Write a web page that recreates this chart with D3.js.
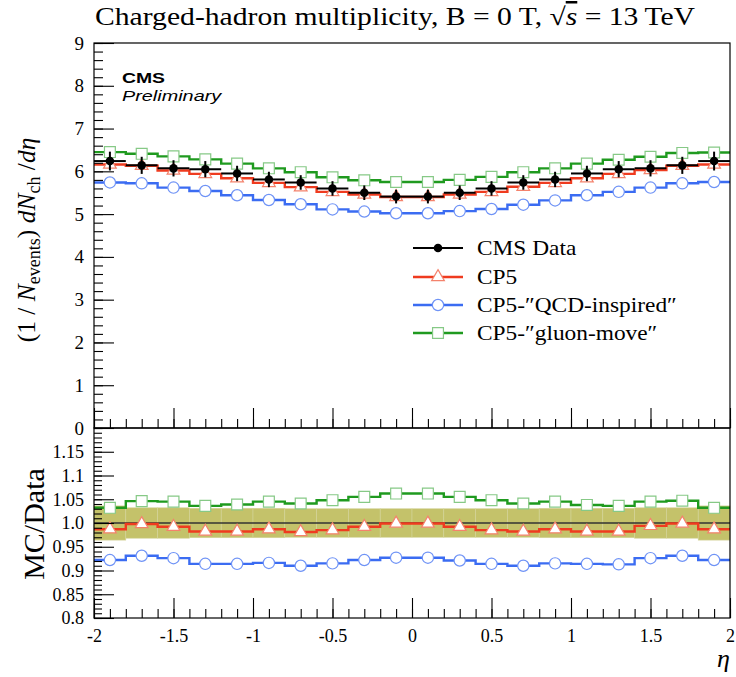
<!DOCTYPE html>
<html>
<head>
<meta charset="utf-8">
<script src="https://cdn.jsdelivr.net/npm/d3@7/dist/d3.min.js"></script>
<style>
  body { margin: 0; background: #fff; }
</style>
</head>
<body>
<div id="chartVis"></div>
<script>
// bin centres in eta (bin width 0.2)
var etaBins = [-1.9, -1.7, -1.5, -1.3, -1.1, -0.9, -0.7, -0.5, -0.3, -0.1,
               0.1, 0.3, 0.5, 0.7, 0.9, 1.1, 1.3, 1.5, 1.7, 1.9];

// top panel: dN/deta
var dataVals  = [6.24, 6.14, 6.07, 6.05, 5.95, 5.81, 5.74, 5.60, 5.50, 5.41,
                 5.41, 5.50, 5.60, 5.74, 5.81, 5.95, 6.05, 6.07, 6.14, 6.24];
var dataErr   = [0.22, 0.20, 0.19, 0.19, 0.18, 0.18, 0.17, 0.17, 0.17, 0.16,
                 0.16, 0.17, 0.17, 0.17, 0.18, 0.18, 0.19, 0.19, 0.20, 0.22];
var cp5Vals   = [6.16, 6.13, 6.02, 5.94, 5.84, 5.73, 5.63, 5.52, 5.46, 5.40,
                 5.40, 5.46, 5.52, 5.64, 5.73, 5.84, 5.94, 6.03, 6.13, 6.16];
var qcdVals   = [5.74, 5.72, 5.62, 5.54, 5.44, 5.33, 5.23, 5.11, 5.06, 5.02,
                 5.02, 5.07, 5.12, 5.22, 5.32, 5.44, 5.52, 5.62, 5.72, 5.75];
var gluonVals = [6.45, 6.41, 6.35, 6.28, 6.18, 6.07, 5.98, 5.86, 5.79, 5.75,
                 5.75, 5.80, 5.87, 5.98, 6.07, 6.18, 6.27, 6.34, 6.43, 6.44];

// ratio panel: MC / Data
var cp5Ratio   = [0.987, 0.998, 0.992, 0.982, 0.982, 0.987, 0.981, 0.985, 0.992, 0.999,
                  0.999, 0.992, 0.985, 0.982, 0.987, 0.982, 0.982, 0.994, 0.999, 0.987];
var qcdRatio   = [0.922, 0.931, 0.926, 0.914, 0.914, 0.916, 0.910, 0.915, 0.922, 0.927,
                  0.927, 0.921, 0.914, 0.910, 0.915, 0.914, 0.913, 0.926, 0.931, 0.922];
var gluonRatio = [1.032, 1.046, 1.045, 1.036, 1.039, 1.045, 1.041, 1.048, 1.055, 1.062,
                  1.062, 1.055, 1.048, 1.041, 1.045, 1.038, 1.036, 1.045, 1.047, 1.032];
var bandErr    = [0.036, 0.032, 0.032, 0.031, 0.031, 0.031, 0.030, 0.030, 0.030, 0.030,
                  0.030, 0.030, 0.030, 0.030, 0.031, 0.031, 0.031, 0.032, 0.032, 0.036];

// ticks
var xMajor = [-2, -1.5, -1, -0.5, 0, 0.5, 1, 1.5, 2];
var xLabels = ["-2", "-1.5", "-1", "-0.5", "0", "0.5", "1", "1.5", "2"];
var topMajor = [0, 1, 2, 3, 4, 5, 6, 7, 8, 9];
var ratioMajor = [0.8, 0.85, 0.9, 0.95, 1.0, 1.05, 1.1, 1.15];
var ratioLabels = ["0.8", "0.85", "0.9", "0.95", "1.0", "1.05", "1.1", "1.15"];

var legendNames = ["CMS Data", "CP5", "CP5-\u2033QCD-inspired\u2033", "CP5-\u2033gluon-move\u2033"];

var width = 736;
var height = 677;
var frame = { left: 94, right: 730, top: 43, mid: 428, bottom: 618 };
var halfBin = 0.1;
var serif = "'Liberation Serif', 'DejaVu Serif', serif";
var sans = "'Liberation Sans', Arial, sans-serif";

var styles = {
  cp5:   { line: "#ef3b1f", stroke: "#f4826c", sym: d3.symbolTriangle, size: 70 },
  qcd:   { line: "#3b6cf2", stroke: "#6f93f6", sym: d3.symbolCircle, size: 100 },
  gluon: { line: "#1f9a1f", stroke: "#86c986", sym: d3.symbolSquare, size: 118 }
};

var svg = d3.select("#chartVis")
  .append("svg")
  .attr("width", width)
  .attr("height", height);

var x = d3.scaleLinear().domain([-2, 2]).range([frame.left, frame.right]);
var yTop = d3.scaleLinear().domain([0, 9]).range([frame.mid, frame.top]);
var yRat = d3.scaleLinear().domain([0.8, 1.2]).range([frame.bottom, frame.mid]);

function stepPoints(vals) {
  var pts = etaBins.map((c, i) => [c - halfBin, vals[i]]);
  pts.push([etaBins[etaBins.length - 1] + halfBin, vals[vals.length - 1]]);
  return pts;
}

function drawMC(g, yScale, vals, st) {
  var line = d3.line()
    .x((d) => { return x(d[0]); })
    .y((d) => { return yScale(d[1]); })
    .curve(d3.curveStepAfter);
  g.append("path")
    .datum(stepPoints(vals))
    .attr("d", line)
    .attr("fill", "none")
    .attr("stroke", st.line)
    .attr("stroke-width", 2.4);
  g.append("g").selectAll("path")
    .data(vals).enter()
    .append("path")
    .attr("d", d3.symbol().type(st.sym).size(st.size))
    .attr("transform", (d, i) => { return "translate(" + x(etaBins[i]) + "," + yScale(d) + ")"; })
    .attr("fill", "white")
    .attr("stroke", st.stroke)
    .attr("stroke-width", 1.2);
}

// ---- ratio band (drawn first)
var gRat = svg.append("g");
gRat.selectAll("rect")
  .data(bandErr).enter()
  .append("rect")
  .attr("x", (d, i) => { return x(etaBins[i] - halfBin); })
  .attr("width", x(halfBin * 2) - x(0))
  .attr("y", (d) => { return yRat(1 + d); })
  .attr("height", (d) => { return yRat(1 - d) - yRat(1 + d); })
  .attr("fill", "#c4c26a")
  .attr("stroke", "#d4d39a")
  .attr("stroke-width", 0.6);

gRat.append("line")
  .attr("x1", x(-2)).attr("x2", x(2))
  .attr("y1", yRat(1)).attr("y2", yRat(1))
  .attr("stroke", "#333")
  .attr("stroke-width", 1.5);

drawMC(gRat, yRat, qcdRatio, styles.qcd);
drawMC(gRat, yRat, cp5Ratio, styles.cp5);
drawMC(gRat, yRat, gluonRatio, styles.gluon);

// ---- top panel
var gTop = svg.append("g");
drawMC(gTop, yTop, qcdVals, styles.qcd);
drawMC(gTop, yTop, cp5Vals, styles.cp5);
drawMC(gTop, yTop, gluonVals, styles.gluon);

// data points with error bars
var gData = gTop.append("g");
gData.selectAll(".hbar")
  .data(dataVals).enter()
  .append("line")
  .attr("x1", (d, i) => { return x(etaBins[i] - halfBin); })
  .attr("x2", (d, i) => { return x(etaBins[i] + halfBin); })
  .attr("y1", (d) => { return yTop(d); })
  .attr("y2", (d) => { return yTop(d); })
  .attr("stroke", "black")
  .attr("stroke-width", 2);
gData.selectAll(".vbar")
  .data(dataVals).enter()
  .append("line")
  .attr("x1", (d, i) => { return x(etaBins[i]); })
  .attr("x2", (d, i) => { return x(etaBins[i]); })
  .attr("y1", (d, i) => { return yTop(d - dataErr[i]); })
  .attr("y2", (d, i) => { return yTop(d + dataErr[i]); })
  .attr("stroke", "black")
  .attr("stroke-width", 2);
gData.selectAll("circle")
  .data(dataVals).enter()
  .append("circle")
  .attr("cx", (d, i) => { return x(etaBins[i]); })
  .attr("cy", (d) => { return yTop(d); })
  .attr("r", 4.3)
  .attr("fill", "black");

// ---- frames
svg.append("rect")
  .attr("x", frame.left).attr("y", frame.top)
  .attr("width", frame.right - frame.left).attr("height", frame.mid - frame.top)
  .attr("fill", "none").attr("stroke", "black").attr("stroke-width", 1.2);
svg.append("rect")
  .attr("x", frame.left).attr("y", frame.mid)
  .attr("width", frame.right - frame.left).attr("height", frame.bottom - frame.mid)
  .attr("fill", "none").attr("stroke", "black").attr("stroke-width", 1.2);

// ---- axes (ticks point inwards)
function styleAxis(g, size) {
  g.select(".domain").remove();
  g.selectAll(".tick line").attr("stroke", "black").attr("stroke-width", 1.1);
  g.selectAll("text")
    .attr("font-family", serif)
    .attr("font-size", size)
    .attr("fill", "black");
}

var xMinor = d3.range(-20, 21).map((d) => d / 10);

[frame.mid, frame.bottom].forEach((yy, k) => {
  var gMin = svg.append("g").attr("transform", "translate(0," + yy + ")")
    .call(d3.axisBottom(x).tickValues(xMinor).tickSize(-9).tickFormat(""));
  styleAxis(gMin, 18);
  var gMaj = svg.append("g").attr("transform", "translate(0," + yy + ")")
    .call(d3.axisBottom(x).tickValues(xMajor).tickSize(-20).tickPadding(11)
      .tickFormat((d, i) => { return k === 1 ? xLabels[i] : ""; }));
  styleAxis(gMaj, 18);
});

var topMinor = d3.range(0, 46).map((d) => d / 5);
var gyMin = svg.append("g").attr("transform", "translate(" + frame.left + ",0)")
  .call(d3.axisLeft(yTop).tickValues(topMinor).tickSize(-9).tickFormat(""));
styleAxis(gyMin, 18);
var gyMaj = svg.append("g").attr("transform", "translate(" + frame.left + ",0)")
  .call(d3.axisLeft(yTop).tickValues(topMajor).tickSize(-20).tickPadding(10).tickFormat(d3.format("d")));
styleAxis(gyMaj, 19);

var ratioMinor = d3.range(80, 121).map((d) => d / 100);
var grMin = svg.append("g").attr("transform", "translate(" + frame.left + ",0)")
  .call(d3.axisLeft(yRat).tickValues(ratioMinor).tickSize(-8).tickFormat(""));
styleAxis(grMin, 18);
var grMaj = svg.append("g").attr("transform", "translate(" + frame.left + ",0)")
  .call(d3.axisLeft(yRat).tickValues(ratioMajor).tickSize(-20).tickPadding(10)
    .tickFormat((d, i) => { return ratioLabels[i]; }));
styleAxis(grMaj, 18);

// ---- titles
var title = svg.append("text")
  .attr("x", 95).attr("y", 25)
  .attr("font-family", serif)
  .attr("font-size", 25)
  .attr("textLength", 600)
  .attr("lengthAdjust", "spacingAndGlyphs");
title.append("tspan").text("Charged-hadron multiplicity, B = 0 T, ");
title.append("tspan").text("\u221A");
title.append("tspan").attr("font-style", "italic").attr("text-decoration", "overline").text("s");
title.append("tspan").text(" = 13\u2009TeV");

var yTitle = svg.append("text")
  .attr("transform", "translate(35," + 240 + ") rotate(-90)")
  .attr("text-anchor", "middle")
  .attr("font-family", serif)
  .attr("font-size", 25.5);
yTitle.append("tspan").text("(1 / ");
yTitle.append("tspan").attr("font-style", "italic").text("N");
yTitle.append("tspan").attr("font-size", 18).attr("dy", 5).text("events");
yTitle.append("tspan").attr("dy", -5).text(") ");
yTitle.append("tspan").attr("font-style", "italic").text("dN");
yTitle.append("tspan").attr("font-size", 18).attr("dy", 5).text("ch");
yTitle.append("tspan").attr("dy", -5).text(" /");
yTitle.append("tspan").attr("font-style", "italic").text("d\u03B7");

svg.append("text")
  .attr("transform", "translate(44," + 524 + ") rotate(-90)")
  .attr("text-anchor", "middle")
  .attr("font-family", serif)
  .attr("font-size", 30)
  .text("MC/Data");

svg.append("text")
  .attr("x", 730).attr("y", 667)
  .attr("text-anchor", "end")
  .attr("font-family", serif)
  .attr("font-style", "italic")
  .attr("font-size", 26)
  .text("\u03B7");

svg.append("text")
  .attr("transform", "translate(122,83) scale(1.25,1)")
  .attr("font-family", sans)
  .attr("font-weight", "bold")
  .attr("font-size", 15.5)
  .text("CMS");
svg.append("text")
  .attr("transform", "translate(122,101) scale(1.28,1)")
  .attr("font-family", sans)
  .attr("font-style", "italic")
  .attr("font-size", 15.5)
  .text("Preliminary");

// ---- legend
var legRows = [248, 277, 305, 333];
var legStyles = [null, styles.cp5, styles.qcd, styles.gluon];
legendNames.forEach((name, i) => {
  var g = svg.append("g").attr("transform", "translate(0," + legRows[i] + ")");
  var st = legStyles[i];
  g.append("line")
    .attr("x1", 413).attr("x2", 463)
    .attr("stroke", st ? st.line : "black")
    .attr("stroke-width", st ? 2.4 : 2);
  if (st) {
    g.append("path")
      .attr("d", d3.symbol().type(st.sym).size(st.size))
      .attr("transform", "translate(438,0)")
      .attr("fill", "white")
      .attr("stroke", st.stroke)
      .attr("stroke-width", 1.2);
  } else {
    g.append("circle").attr("cx", 438).attr("r", 4.3).attr("fill", "black");
  }
  g.append("text")
    .attr("transform", "translate(477,7) scale(1.14,1)")
    .attr("font-family", serif)
    .attr("font-size", 20.5)
    .text(name);
});
</script>
</body>
</html>
